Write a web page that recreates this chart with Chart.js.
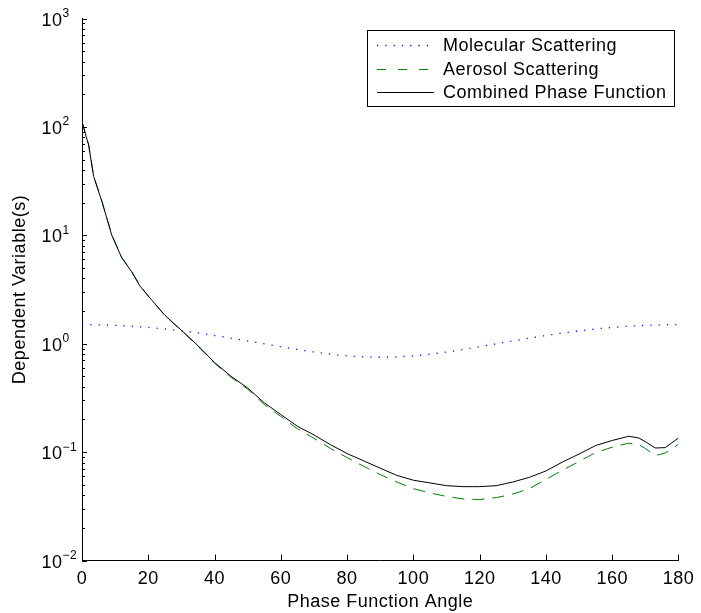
<!DOCTYPE html>
<html>
<head>
<meta charset="utf-8">
<script src="https://cdn.jsdelivr.net/npm/chart.js@4.4.0/dist/chart.umd.min.js"></script>
<style>
  html, body { margin: 0; padding: 0; background: #fff; }
  #wrap { width: 701px; height: 613px; }
</style>
</head>
<body>
<div id="wrap"><canvas id="myChart" width="701" height="613"></canvas></div>
<script>
var FONT = "'Liberation Sans', Arial, Helvetica, sans-serif";

// phase function angle (deg)
var angles = [0, 2, 3.5, 6, 9, 12, 15, 17.5, 20, 25, 30, 35, 40, 45, 50, 55, 60, 65, 70, 75, 80, 85, 90,
  95, 100, 105, 110, 115, 120, 125, 130, 135, 140, 145, 150, 155, 160, 165, 168, 170, 173, 176, 180];

var combined = [111, 68, 35, 20.5, 10, 6.2, 4.6, 3.4, 2.75, 1.83, 1.33, 0.96, 0.67, 0.5, 0.39, 0.285, 0.222,
  0.173, 0.144, 0.117, 0.097, 0.083, 0.071, 0.061, 0.055, 0.052, 0.049, 0.048, 0.048, 0.049, 0.053, 0.0585,
  0.067, 0.081, 0.096, 0.115, 0.128, 0.14, 0.135, 0.125, 0.109, 0.11, 0.135];

var aerosol = [112, 69, 35.5, 20.7, 10.1, 6.25, 4.65, 3.43, 2.76, 1.82, 1.32, 0.95, 0.66, 0.49, 0.38, 0.275,
  0.213, 0.164, 0.134, 0.108, 0.089, 0.074, 0.062, 0.053, 0.046, 0.042, 0.039, 0.037, 0.0365, 0.038, 0.041,
  0.046, 0.056, 0.068, 0.082, 0.099, 0.111, 0.121, 0.117, 0.108, 0.093, 0.098, 0.118];

var molAngles = [0, 5, 10, 15, 20, 25, 30, 35, 40, 45, 50, 55, 60, 65, 70, 75, 80, 85, 90,
  95, 100, 105, 110, 115, 120, 125, 130, 135, 140, 145, 150, 155, 160, 165, 170, 175, 180];
var molecular = [1.5, 1.494, 1.477, 1.45, 1.412, 1.366, 1.313, 1.253, 1.19, 1.125, 1.06, 0.997, 0.938,
  0.884, 0.838, 0.8, 0.773, 0.756, 0.75, 0.756, 0.773, 0.8, 0.838, 0.884, 0.938, 0.997, 1.06, 1.125,
  1.19, 1.253, 1.313, 1.366, 1.412, 1.45, 1.477, 1.494, 1.5];

var xTicks = [0, 20, 40, 60, 80, 100, 120, 140, 160, 180];
var yExponents = [-2, -1, 0, 1, 2, 3];

var legendItems = [
  { text: 'Molecular Scattering', color: '#0000ff', dash: [1.2, 7.1], width: 1.3 },
  { text: 'Aerosol Scattering', color: '#008000', dash: [9, 12], width: 1 },
  { text: 'Combined Phase Function', color: '#000000', dash: [], width: 1 }
];

function pts(xs, ys) {
  return xs.map(function (x, i) { return { x: x, y: ys[i] }; });
}

// matlab-ish axes: inward ticks, 10^n labels, boxed legend
var matlabAxes = {
  id: 'matlabAxes',
  beforeDraw: function (chart) {
    // helvetica in the original sets a bit wider than liberation sans
    chart.ctx.letterSpacing = '0.5px';
  },
  afterDraw: function (chart) {
    var ctx = chart.ctx;
    var xs = chart.scales.x, ys = chart.scales.y;
    var a = chart.chartArea;
    ctx.save();
    ctx.strokeStyle = '#000';
    ctx.lineWidth = 1;
    ctx.beginPath();
    xTicks.forEach(function (v) {
      var px = Math.round(xs.getPixelForValue(v)) + 0.5;
      ctx.moveTo(px, a.bottom);
      ctx.lineTo(px, a.bottom - 6);
    });
    for (var e = -2; e <= 3; e++) {
      for (var m = 1; m <= 9; m++) {
        if (e === 3 && m > 1) break;
        var py = Math.round(ys.getPixelForValue(m * Math.pow(10, e))) + 0.5;
        ctx.moveTo(a.left, py);
        ctx.lineTo(a.left + (m === 1 ? 5 : 3), py);
      }
    }
    ctx.stroke();

    // y tick labels
    ctx.fillStyle = '#000';
    yExponents.forEach(function (ex) {
      var py = ys.getPixelForValue(Math.pow(10, ex));
      ctx.font = '18px ' + FONT;
      ctx.textAlign = 'right';
      ctx.textBaseline = 'alphabetic';
      ctx.fillText('10', 62.5, py + 7);
      ctx.font = '12px ' + FONT;
      ctx.textAlign = 'left';
      ctx.fillText(ex < 0 ? '\u2212' + (-ex) : String(ex), 62.5, py - 1.5);
    });

    // legend
    var L = 367.5, T = 30.5, R = 674.5, B = 106.5;
    ctx.fillStyle = '#fff';
    ctx.fillRect(L, T, R - L, B - T);
    ctx.strokeStyle = '#000';
    ctx.strokeRect(L, T, R - L, B - T);
    var rows = [45, 69, 92];
    legendItems.forEach(function (it, i) {
      ctx.beginPath();
      ctx.strokeStyle = it.color;
      ctx.lineWidth = it.width;
      ctx.setLineDash(it.dash);
      ctx.moveTo(377, rows[i] + 0.5);
      ctx.lineTo(434, rows[i] + 0.5);
      ctx.stroke();
      ctx.setLineDash([]);
      ctx.fillStyle = '#000';
      ctx.font = '18px ' + FONT;
      ctx.textAlign = 'left';
      ctx.textBaseline = 'middle';
      ctx.fillText(it.text, 443, rows[i] + 1);
    });
    ctx.restore();
  }
};

new Chart('myChart', {
  type: 'line',
  data: {
    datasets: [{
      label: 'Molecular Scattering',
      data: pts(molAngles, molecular),
      borderColor: '#0000ff',
      borderWidth: 1.3,
      borderDash: [1.2, 7.1],
      cubicInterpolationMode: 'monotone',
      pointRadius: 0
    }, {
      label: 'Aerosol Scattering',
      data: pts(angles, aerosol),
      borderColor: '#008000',
      borderWidth: 1,
      borderDash: [12, 8],
      tension: 0,
      pointRadius: 0
    }, {
      label: 'Combined Phase Function',
      data: pts(angles, combined),
      borderColor: '#000000',
      borderWidth: 1,
      tension: 0,
      pointRadius: 0,
      order: -1
    }]
  },
  options: {
    responsive: false,
    animation: false,
    devicePixelRatio: 1,
    layout: {
      padding: { left: 0, right: 18, top: 18.5, bottom: 0 }
    },
    plugins: {
      legend: { display: false },
      title: { display: false },
      tooltip: { enabled: false }
    },
    scales: {
      x: {
        type: 'linear',
        min: 0,
        max: 180,
        afterFit: function (scale) { scale.height = 52.5; },
        ticks: {
          stepSize: 20,
          padding: 7.5,
          color: '#000',
          maxRotation: 0,
          font: { size: 18, family: FONT }
        },
        grid: { display: false, drawTicks: false },
        border: { display: true, color: '#000', width: 1 },
        title: {
          display: true,
          text: 'Phase Function Angle',
          color: '#000',
          padding: { top: 0, bottom: 0 },
          font: { size: 18, family: FONT }
        }
      },
      y: {
        type: 'logarithmic',
        min: 0.01,
        max: 1000,
        afterFit: function (scale) { scale.width = 82; },
        ticks: { display: false },
        grid: { display: false, drawTicks: false },
        border: { display: true, color: '#000', width: 1 },
        title: {
          display: true,
          text: 'Dependent Variable(s)',
          color: '#000',
          padding: { top: 9, bottom: 0 },
          font: { size: 18, family: FONT }
        }
      }
    }
  },
  plugins: [matlabAxes]
});
</script>
</body>
</html>
